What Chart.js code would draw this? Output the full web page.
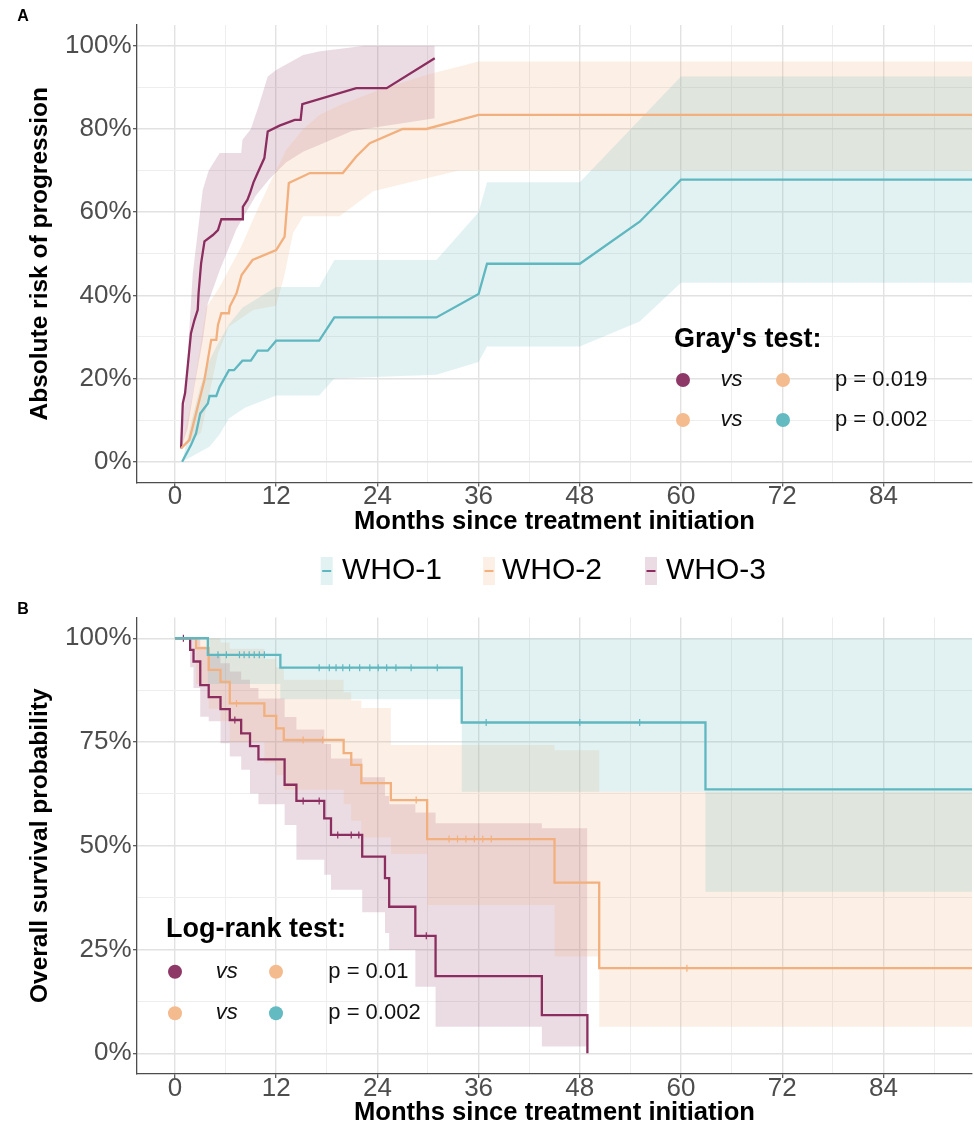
<!DOCTYPE html>
<html><head><meta charset="utf-8">
<script src="https://cdn.jsdelivr.net/npm/chart.js@4.4.1/dist/chart.umd.min.js"></script>
<style>
html,body{margin:0;padding:0;background:#fff;}
body{width:974px;height:1133px;position:relative;overflow:hidden;}
#cA{position:absolute;left:0;top:0;width:974px;height:600px;}
#cB{position:absolute;left:0;top:600px;width:974px;height:533px;}
</style></head><body>
<canvas id="cA" width="974" height="600"></canvas>
<canvas id="cB" width="974" height="533"></canvas>
<script>
// ---------------- data ----------------
const groups = ['WHO-1', 'WHO-2', 'WHO-3'];

const xTickValues = [0, 6, 12, 18, 24, 30, 36, 42, 48, 54, 60, 66, 72, 78, 84, 90];
const xTickLabels = ['0', '', '12', '', '24', '', '36', '', '48', '', '60', '', '72', '', '84', ''];
const riskTickValues = [0, 0.1, 0.2, 0.3, 0.4, 0.5, 0.6, 0.7, 0.8, 0.9, 1];
const riskTickLabels = ['0%', '', '20%', '', '40%', '', '60%', '', '80%', '', '100%'];
const survTickValues = [0, 0.125, 0.25, 0.375, 0.5, 0.625, 0.75, 0.875, 1];
const survTickLabels = ['0%', '', '25%', '', '50%', '', '75%', '', '100%'];

// Panel A: absolute risk of progression (cumulative incidence) with 95% CI
const who1RiskMonths = [0.85, 1.9, 2.5, 3.0, 3.9, 4.1, 4.9, 5.3, 6.4, 7.0, 8.0, 9.0, 9.8, 11.0, 12.0, 17.1, 18.9, 31.0, 36.0, 37.0, 48.0, 55.1, 60.0, 100];
const who1Risk       = [0, 0.04, 0.068, 0.116, 0.14, 0.158, 0.158, 0.18, 0.22, 0.22, 0.243, 0.243, 0.267, 0.267, 0.291, 0.291, 0.347, 0.347, 0.403, 0.476, 0.476, 0.577, 0.678, 0.678];
const who1RiskUpperMonths = [0.85, 2, 3, 4, 5, 6.4, 8, 12, 17.1, 18.9, 31, 36, 37, 48, 60, 100];
const who1RiskUpper       = [0, 0.1, 0.18, 0.24, 0.28, 0.33, 0.37, 0.42, 0.42, 0.485, 0.485, 0.6, 0.672, 0.672, 0.926, 0.926];
const who1RiskLowerMonths = [0.85, 4.1, 5.3, 6.4, 8.3, 12, 17.1, 18.9, 31, 36, 37, 48, 55.1, 60, 100];
const who1RiskLower       = [0, 0.036, 0.066, 0.104, 0.13, 0.159, 0.159, 0.2, 0.209, 0.24, 0.277, 0.277, 0.337, 0.43, 0.43];

const who2RiskMonths = [0.73, 1.7, 2.5, 3.5, 4.3, 4.9, 5.1, 5.5, 6.4, 6.5, 7.3, 7.9, 9.2, 12.0, 13.0, 13.5, 16.0, 19.9, 21.5, 23.1, 27.0, 29.8, 36.0, 100];
const who2Risk       = [0.032, 0.052, 0.116, 0.197, 0.293, 0.293, 0.329, 0.357, 0.357, 0.373, 0.405, 0.449, 0.485, 0.509, 0.541, 0.67, 0.694, 0.694, 0.734, 0.766, 0.8, 0.8, 0.834, 0.834];
const who2RiskUpperMonths = [0.73, 2, 3.1, 3.7, 5.3, 7.85, 9.6, 11.2, 13.2, 15.2, 17.2, 19.5, 24.3, 30.2, 33.7, 36, 100];
const who2RiskUpper       = [0.032, 0.15, 0.29, 0.37, 0.42, 0.517, 0.598, 0.668, 0.75, 0.8, 0.835, 0.857, 0.895, 0.932, 0.95, 0.962, 0.962];
const who2RiskLowerMonths = [0.73, 3.1, 5.1, 6.4, 9.3, 12, 13, 14, 15.2, 19.5, 23.5, 27.5, 33.7, 36, 100];
const who2RiskLower       = [0.032, 0.07, 0.26, 0.325, 0.365, 0.375, 0.45, 0.55, 0.59, 0.59, 0.65, 0.67, 0.7, 0.7, 0.7];

const who3RiskMonths = [0.73, 0.93, 1.2, 1.9, 2.3, 2.7, 2.8, 3.1, 3.5, 4.5, 5.1, 5.5, 8.0, 8.05, 8.6, 8.9, 9.3, 9.8, 10.6, 11.0, 12.4, 14.2, 14.9, 15.1, 21.5, 25.1, 30.8];
const who3Risk       = [0.032, 0.14, 0.165, 0.309, 0.34, 0.365, 0.405, 0.477, 0.53, 0.545, 0.557, 0.583, 0.583, 0.613, 0.63, 0.646, 0.671, 0.694, 0.73, 0.794, 0.808, 0.822, 0.822, 0.86, 0.898, 0.898, 0.97];
const who3RiskUpperMonths = [0.73, 1.5, 2.1, 3.3, 4.0, 5.3, 7.85, 8.0, 9.0, 10.0, 11.0, 12.0, 15.2, 17.2, 22.5, 30.8];
const who3RiskUpper       = [0.032, 0.25, 0.45, 0.654, 0.7, 0.742, 0.742, 0.774, 0.8, 0.86, 0.926, 0.942, 0.978, 0.987, 1.0, 1.0];
const who3RiskLowerMonths = [0.73, 1.5, 2.3, 3.3, 3.9, 5.3, 7.3, 9.6, 11.2, 13.2, 15.2, 21, 30.8];
const who3RiskLowerVals   = [0.032, 0.08, 0.18, 0.293, 0.381, 0.46, 0.56, 0.64, 0.68, 0.72, 0.745, 0.795, 0.826];

// Panel B: overall survival (Kaplan-Meier, stepped) with 95% CI
const who1SurvMonths = [0, 3.9, 12.5, 34, 62.9, 100];
const who1Surv       = [1, 0.96, 0.929, 0.797, 0.636, 0.636];
const who1SurvUpper  = [1, 1, 1, 1, 1, 1];
const who1SurvLower  = [1, 0.89, 0.853, 0.63, 0.389, 0.389];
const who1Censor = [5.1, 6.1, 7.65, 8.2, 8.8, 9.4, 10, 10.6, 17.1, 18.3, 19.1, 19.9, 20.7, 21.9, 23.1, 24.1, 25.1, 26.2, 28, 31.1, 36.9, 48, 55.1];

const who2SurvMonths = [0, 2.5, 4.0, 5.4, 6.5, 10.6, 12.0, 12.9, 20.0, 20.9, 22.1, 25.6, 29.9, 45, 50.3, 100];
const who2Surv       = [1, 0.976, 0.924, 0.895, 0.843, 0.813, 0.783, 0.755, 0.723, 0.695, 0.651, 0.61, 0.516, 0.411, 0.205, 0.205];
const who2SurvUpper  = [1, 1, 1, 0.99, 0.975, 0.95, 0.93, 0.9, 0.87, 0.85, 0.832, 0.743, 0.743, 0.73, 0.63, 0.63];
const who2SurvLower  = [1, 0.89, 0.83, 0.8, 0.75, 0.7, 0.67, 0.635, 0.6, 0.56, 0.52, 0.48, 0.357, 0.233, 0.064, 0.064];
const who2Censor = [7.3, 15.2, 17.5, 28.6, 32.5, 33.5, 34.5, 35.5, 36.5, 37.5, 60.7];

const who3SurvMonths = [0, 1.8, 2.2, 3.0, 4.0, 5.4, 6.5, 7.85, 8.9, 9.9, 13.0, 14.4, 17.7, 18.5, 22.2, 24.9, 25.4, 28.5, 30.9, 43.5, 48.9];
const who3Surv       = [1, 0.972, 0.944, 0.887, 0.858, 0.829, 0.803, 0.771, 0.74, 0.708, 0.647, 0.608, 0.566, 0.526, 0.474, 0.422, 0.353, 0.283, 0.186, 0.092, 0];
const who3SurvUpper  = [1, 1, 1, 0.98, 0.96, 0.94, 0.92, 0.9, 0.88, 0.855, 0.81, 0.78, 0.745, 0.71, 0.665, 0.62, 0.6, 0.58, 0.554, 0.542, 0.542];
const who3SurvLower  = [1, 0.93, 0.88, 0.811, 0.8, 0.747, 0.715, 0.683, 0.626, 0.6, 0.55, 0.466, 0.43, 0.394, 0.34, 0.29, 0.249, 0.16, 0.064, 0.016, 0.016];
const who3Censor = [1.0, 7.1, 15.2, 17.1, 19.3, 20.9, 21.8, 29.8];

// statistical test annotations (group indices)
const grayTestRows    = [{a: 2, b: 1, p: 'p = 0.019'}, {a: 1, b: 0, p: 'p = 0.002'}];
const logRankTestRows = [{a: 2, b: 1, p: 'p = 0.01'},  {a: 1, b: 0, p: 'p = 0.002'}];

// ---------------- styling ----------------
const FONT = "'Liberation Sans', Arial, Helvetica, sans-serif";
const lineColors = ['#5fb7bf', '#f2b07e', '#8b2e5f'];
const bandColors = ['rgba(95,183,191,0.18)', 'rgba(242,176,126,0.2)', 'rgba(139,46,95,0.17)'];
const dotColors  = ['#63bac1', '#f4bb8f', '#8d3866'];
const CLEAR = 'rgba(0,0,0,0)';

function pts(xs, ys) { return xs.map((x, i) => ({x: x, y: ys[i]})); }
function survAt(months, surv, t) {
  let v = surv[0];
  for (let i = 0; i < months.length; i++) if (months[i] <= t) v = surv[i];
  return v;
}
function band(mU, vU, mL, vL, g, stepped) {
  return [
    {data: pts(mU, vU), borderColor: CLEAR, borderWidth: 0, pointRadius: 0, pointHoverRadius: 0, fill: '+1', backgroundColor: bandColors[g], stepped: stepped, order: 2},
    {data: pts(mL, vL), borderColor: CLEAR, borderWidth: 0, pointRadius: 0, pointHoverRadius: 0, fill: false, stepped: stepped, order: 2}
  ];
}
function curve(m, v, g, stepped) {
  return {data: pts(m, v), borderColor: lineColors[g], borderWidth: 2.3, pointRadius: 0, pointHoverRadius: 0, fill: false, stepped: stepped, tension: 0, order: 0};
}
function censor(times, m, v, g) {
  return {data: times.map(t => ({x: t, y: survAt(m, v, t)})), showLine: false, pointStyle: 'cross', pointRadius: 3.5, pointHoverRadius: 3.5,
          borderColor: lineColors[g], backgroundColor: lineColors[g], pointBorderWidth: 1.2, order: 0};
}

function scales(yVals, yLabels, yTitle, xHeight, xTitlePad) {
  const majorX = xTickValues.filter((v, i) => xTickLabels[i] !== '');
  const majorY = yVals.filter((v, i) => yLabels[i] !== '');
  return {
    x: {
      type: 'linear', min: -4.5, max: 94.5,
      afterBuildTicks: a => { a.ticks = xTickValues.map(v => ({value: v})); },
      afterFit: s => { s.height = xHeight; },
      ticks: {autoSkip: false, maxRotation: 0, padding: -2.5, color: '#4d4d4d',
              font: {family: FONT, size: 26, lineHeight: 1},
              callback: v => xTickLabels[xTickValues.indexOf(v)]},
      grid: {color: c => majorX.includes(c.tick && c.tick.value) ? '#e2e2e2' : '#eeeeee',
             lineWidth: c => majorX.includes(c.tick && c.tick.value) ? 1.4 : 1,
             tickLength: 4, tickWidth: 1.2,
             tickColor: c => majorX.includes(c.tick && c.tick.value) ? '#4d4d4d' : CLEAR},
      border: {display: true, color: '#4d4d4d', width: 1.3},
      title: {display: true, text: 'Months since treatment initiation', color: '#000',
              font: {family: FONT, size: 25.6, weight: 'bold', lineHeight: 1.2}, padding: {top: 0, bottom: xTitlePad}}
    },
    y: {
      type: 'linear', min: -0.05, max: 1.05,
      afterBuildTicks: a => { a.ticks = yVals.map(v => ({value: v})); },
      afterFit: s => { s.width = 137; },
      ticks: {padding: 1.5, color: '#4d4d4d', font: {family: FONT, size: 26, lineHeight: 1},
              callback: v => yLabels[yVals.indexOf(v)]},
      grid: {color: c => majorY.includes(c.tick && c.tick.value) ? '#e2e2e2' : '#eeeeee',
             lineWidth: c => majorY.includes(c.tick && c.tick.value) ? 1.4 : 1,
             tickLength: 4, tickWidth: 1.2,
             tickColor: c => majorY.includes(c.tick && c.tick.value) ? '#4d4d4d' : CLEAR},
      border: {display: true, color: '#4d4d4d', width: 1.3},
      title: {display: true, text: yTitle, color: '#000',
              font: {family: FONT, size: 24.5, weight: 'bold', lineHeight: 1.2}, padding: {top: 25.3, bottom: 0}}
    }
  };
}

function drawTestBox(ctx, title, rows, o) {
  ctx.save();
  ctx.textBaseline = 'middle';
  ctx.textAlign = 'left';
  ctx.fillStyle = '#000';
  ctx.font = 'bold 27px ' + FONT;
  ctx.fillText(title, o.titleX, o.titleY);
  rows.forEach((r, i) => {
    const y = o.rowY[i];
    [[r.a, o.dot1], [r.b, o.dot2]].forEach(([g, x]) => {
      ctx.beginPath(); ctx.arc(x, y, 7, 0, Math.PI * 2); ctx.fillStyle = dotColors[g]; ctx.fill();
    });
    ctx.fillStyle = '#111';
    ctx.font = 'italic 22px ' + FONT;
    ctx.textAlign = 'center';
    ctx.fillText('vs', o.vs, y);
    ctx.textAlign = 'left';
    ctx.font = '22px ' + FONT;
    ctx.fillText(r.p, o.pX, y);
  });
  ctx.restore();
}
function drawPanelLetter(ctx, letter, x, y) {
  ctx.save();
  ctx.font = 'bold 16px ' + FONT; ctx.fillStyle = '#000';
  ctx.textBaseline = 'middle'; ctx.textAlign = 'center';
  ctx.fillText(letter, x, y);
  ctx.restore();
}

const annotA = {
  id: 'annotA',
  afterDraw(chart) {
    const ctx = chart.ctx;
    drawPanelLetter(ctx, 'A', 23, 17);
    drawTestBox(ctx, "Gray's test:", grayTestRows, {titleX: 674, titleY: 340, rowY: [380, 420], dot1: 683, vs: 731.5, dot2: 783, pX: 835});
    // legend (between panels)
    const keyX = [320.7, 483, 645], textX = [342, 502, 666], ly = 571;
    ctx.save();
    groups.forEach((g, i) => {
      ctx.fillStyle = bandColors[i];
      ctx.fillRect(keyX[i], ly - 14, 12, 28);
      ctx.strokeStyle = lineColors[i]; ctx.lineWidth = 2;
      ctx.beginPath(); ctx.moveTo(keyX[i] + 1.5, ly); ctx.lineTo(keyX[i] + 10.5, ly); ctx.stroke();
      ctx.fillStyle = '#000'; ctx.font = '30px ' + FONT; ctx.textBaseline = 'middle'; ctx.textAlign = 'left';
      ctx.fillText(g, textX[i], ly);
    });
    ctx.restore();
  }
};
const annotB = {
  id: 'annotB',
  afterDraw(chart) {
    const ctx = chart.ctx;
    drawPanelLetter(ctx, 'B', 23, 10);
    drawTestBox(ctx, 'Log-rank test:', logRankTestRows, {titleX: 166, titleY: 330, rowY: [371.7, 413.3], dot1: 175, vs: 226.7, dot2: 276, pX: 328.3});
  }
};

const common = {responsive: false, animation: false, devicePixelRatio: 1, events: [],
                plugins: {legend: {display: false}, tooltip: {enabled: false}, filler: {propagate: false}}};

new Chart(document.getElementById('cA'), {
  type: 'line',
  data: {datasets: [
    ...band(who1RiskUpperMonths, who1RiskUpper, who1RiskLowerMonths, who1RiskLower, 0, false),
    ...band(who2RiskUpperMonths, who2RiskUpper, who2RiskLowerMonths, who2RiskLower, 1, false),
    ...band(who3RiskUpperMonths, who3RiskUpper, who3RiskLowerMonths, who3RiskLowerVals, 2, false),
    curve(who1RiskMonths, who1Risk, 0, false),
    curve(who2RiskMonths, who2Risk, 1, false),
    curve(who3RiskMonths, who3Risk, 2, false)
  ]},
  options: Object.assign({}, common, {
    layout: {autoPadding: false, padding: {top: 25, right: 2, bottom: 55, left: 0}},
    scales: scales(riskTickValues, riskTickLabels, 'Absolute risk of progression', 62.5, 7.5)
  }),
  plugins: [annotA]
});

new Chart(document.getElementById('cB'), {
  type: 'line',
  data: {datasets: [
    ...band(who1SurvMonths, who1SurvUpper, who1SurvMonths, who1SurvLower, 0, true),
    ...band(who2SurvMonths, who2SurvUpper, who2SurvMonths, who2SurvLower, 1, true),
    ...band(who3SurvMonths, who3SurvUpper, who3SurvMonths, who3SurvLower, 2, true),
    curve(who1SurvMonths, who1Surv, 0, true),
    curve(who2SurvMonths, who2Surv, 1, true),
    curve(who3SurvMonths, who3Surv, 2, true),
    censor(who1Censor, who1SurvMonths, who1Surv, 0),
    censor(who2Censor, who2SurvMonths, who2Surv, 1),
    censor(who3Censor, who3SurvMonths, who3Surv, 2)
  ]},
  options: Object.assign({}, common, {
    layout: {autoPadding: false, padding: {top: 17.5, right: 2, bottom: 0, left: 0}},
    scales: scales(survTickValues, survTickLabels, 'Overall survival probability', 59, 4.5)
  }),
  plugins: [annotB]
});
</script></body></html>
